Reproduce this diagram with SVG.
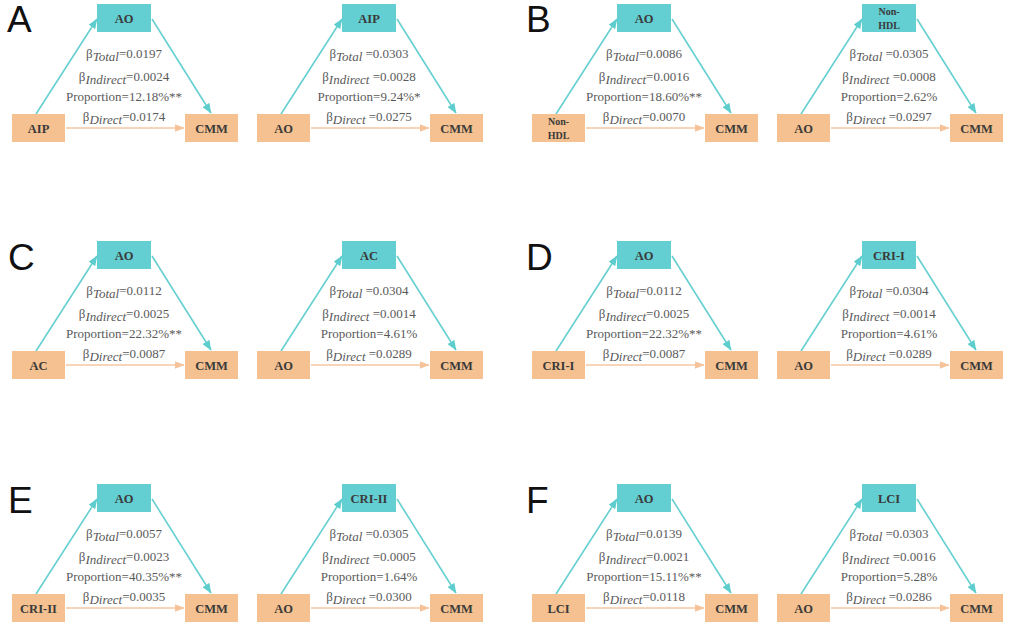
<svg xmlns="http://www.w3.org/2000/svg" width="1021" height="638" viewBox="0 0 1021 638">
<style>
.bg{fill:#ffffff}
.tb{fill:#63cfd2}
.ob{fill:#f5c190}
.bl{font-family:"Liberation Serif","Times New Roman",serif;font-weight:bold;font-size:12.5px;fill:#3a3a3a;text-anchor:middle}
.bs{font-size:10px}
.st{font-family:"Liberation Serif","Times New Roman",serif;font-size:13px;fill:#5a5a5a;text-anchor:middle}
.sub{font-style:italic}
.tl{stroke:#66cfd0;stroke-width:1.6;fill:none}
.ol{stroke:#f6c7a0;stroke-width:1.6;fill:none}
.pl{font-family:"Liberation Sans",Arial,sans-serif;font-size:37px;fill:#111}
</style>
<defs>
<marker id="at" markerUnits="userSpaceOnUse" markerWidth="10" markerHeight="8" refX="9.5" refY="4" orient="auto"><path d="M0,0 L10,4 L0,8 z" fill="#5ecdce"/></marker>
<marker id="ao" markerUnits="userSpaceOnUse" markerWidth="10" markerHeight="8" refX="9.5" refY="4" orient="auto"><path d="M0,0 L10,4 L0,8 z" fill="#f5c29a"/></marker>
</defs>
<rect class="bg" x="0" y="0" width="1021" height="638"/>

<g id="labels">
<text class="pl" x="7" y="32">A</text>
<text class="pl" x="526" y="32">B</text>
<text class="pl" x="8" y="270">C</text>
<text class="pl" x="526" y="270">D</text>
<text class="pl" x="8" y="513">E</text>
<text class="pl" x="526" y="513">F</text>
</g>

<!-- A left -->
<g id="A1" transform="translate(0,0)">
<g id="A1-connectors"><line class="tl" x1="36" y1="114" x2="97" y2="19" marker-end="url(#at)"/><line class="tl" x1="152" y1="19" x2="211" y2="113" marker-end="url(#at)"/><line class="ol" x1="66" y1="128" x2="184" y2="128" marker-end="url(#ao)"/></g>
<g id="A1-top"><rect class="tb" x="97" y="4" width="54" height="28"/><text class="bl" x="124" y="22.5">AO</text></g>
<g id="A1-x"><rect class="ob" x="12" y="114" width="53" height="28"/><text class="bl" x="38.5" y="132.5">AIP</text></g>
<g id="A1-y"><rect class="ob" x="185" y="114" width="53" height="28"/><text class="bl" x="211.5" y="132.5">CMM</text></g>
<g id="A1-stats"><text class="st" x="124" y="58">β<tspan class="sub" dy="3">Total</tspan><tspan dy="-3">=0.0197</tspan></text><text class="st" x="124" y="81">β<tspan class="sub" dy="3">Indirect</tspan><tspan dy="-3">=0.0024</tspan></text><text class="st" x="124" y="101">Proportion=12.18%**</text><text class="st" x="124" y="121">β<tspan class="sub" dy="3">Direct</tspan><tspan dy="-3">=0.0174</tspan></text></g>
</g>

<!-- A right -->
<g id="A2" transform="translate(245,0)">
<g id="A2-connectors"><line class="tl" x1="36" y1="114" x2="97" y2="19" marker-end="url(#at)"/><line class="tl" x1="152" y1="19" x2="211" y2="113" marker-end="url(#at)"/><line class="ol" x1="66" y1="128" x2="184" y2="128" marker-end="url(#ao)"/></g>
<g id="A2-top"><rect class="tb" x="97" y="4" width="54" height="28"/><text class="bl" x="124" y="22.5">AIP</text></g>
<g id="A2-x"><rect class="ob" x="12" y="114" width="53" height="28"/><text class="bl" x="38.5" y="132.5">AO</text></g>
<g id="A2-y"><rect class="ob" x="185" y="114" width="53" height="28"/><text class="bl" x="211.5" y="132.5">CMM</text></g>
<g id="A2-stats"><text class="st" x="124" y="58">β<tspan class="sub" dy="3">Total</tspan><tspan dy="-3"> =0.0303</tspan></text><text class="st" x="124" y="81">β<tspan class="sub" dy="3">Indirect</tspan><tspan dy="-3"> =0.0028</tspan></text><text class="st" x="124" y="101">Proportion=9.24%*</text><text class="st" x="124" y="121">β<tspan class="sub" dy="3">Direct</tspan><tspan dy="-3"> =0.0275</tspan></text></g>
</g>

<!-- B left -->
<g id="B1" transform="translate(520,0)">
<g id="B1-connectors"><line class="tl" x1="36" y1="114" x2="97" y2="19" marker-end="url(#at)"/><line class="tl" x1="152" y1="19" x2="211" y2="113" marker-end="url(#at)"/><line class="ol" x1="66" y1="128" x2="184" y2="128" marker-end="url(#ao)"/></g>
<g id="B1-top"><rect class="tb" x="97" y="4" width="54" height="28"/><text class="bl" x="124" y="22.5">AO</text></g>
<g id="B1-x"><rect class="ob" x="12" y="114" width="53" height="28"/><text class="bl bs" x="38.5" y="125">Non-</text><text class="bl bs" x="38.5" y="139">HDL</text></g>
<g id="B1-y"><rect class="ob" x="185" y="114" width="53" height="28"/><text class="bl" x="211.5" y="132.5">CMM</text></g>
<g id="B1-stats"><text class="st" x="124" y="58">β<tspan class="sub" dy="3">Total</tspan><tspan dy="-3">=0.0086</tspan></text><text class="st" x="124" y="81">β<tspan class="sub" dy="3">Indirect</tspan><tspan dy="-3">=0.0016</tspan></text><text class="st" x="124" y="101">Proportion=18.60%**</text><text class="st" x="124" y="121">β<tspan class="sub" dy="3">Direct</tspan><tspan dy="-3">=0.0070</tspan></text></g>
</g>

<!-- B right -->
<g id="B2" transform="translate(765,0)">
<g id="B2-connectors"><line class="tl" x1="36" y1="114" x2="97" y2="19" marker-end="url(#at)"/><line class="tl" x1="152" y1="19" x2="211" y2="113" marker-end="url(#at)"/><line class="ol" x1="66" y1="128" x2="184" y2="128" marker-end="url(#ao)"/></g>
<g id="B2-top"><rect class="tb" x="97" y="4" width="54" height="28"/><text class="bl bs" x="124" y="15">Non-</text><text class="bl bs" x="124" y="29">HDL</text></g>
<g id="B2-x"><rect class="ob" x="12" y="114" width="53" height="28"/><text class="bl" x="38.5" y="132.5">AO</text></g>
<g id="B2-y"><rect class="ob" x="185" y="114" width="53" height="28"/><text class="bl" x="211.5" y="132.5">CMM</text></g>
<g id="B2-stats"><text class="st" x="124" y="58">β<tspan class="sub" dy="3">Total</tspan><tspan dy="-3"> =0.0305</tspan></text><text class="st" x="124" y="81">β<tspan class="sub" dy="3">Indirect</tspan><tspan dy="-3"> =0.0008</tspan></text><text class="st" x="124" y="101">Proportion=2.62%</text><text class="st" x="124" y="121">β<tspan class="sub" dy="3">Direct</tspan><tspan dy="-3"> =0.0297</tspan></text></g>
</g>

<!-- C left -->
<g id="C1" transform="translate(0,237)">
<g id="C1-connectors"><line class="tl" x1="36" y1="114" x2="97" y2="19" marker-end="url(#at)"/><line class="tl" x1="152" y1="19" x2="211" y2="113" marker-end="url(#at)"/><line class="ol" x1="66" y1="128" x2="184" y2="128" marker-end="url(#ao)"/></g>
<g id="C1-top"><rect class="tb" x="97" y="4" width="54" height="28"/><text class="bl" x="124" y="22.5">AO</text></g>
<g id="C1-x"><rect class="ob" x="12" y="114" width="53" height="28"/><text class="bl" x="38.5" y="132.5">AC</text></g>
<g id="C1-y"><rect class="ob" x="185" y="114" width="53" height="28"/><text class="bl" x="211.5" y="132.5">CMM</text></g>
<g id="C1-stats"><text class="st" x="124" y="58">β<tspan class="sub" dy="3">Total</tspan><tspan dy="-3">=0.0112</tspan></text><text class="st" x="124" y="81">β<tspan class="sub" dy="3">Indirect</tspan><tspan dy="-3">=0.0025</tspan></text><text class="st" x="124" y="101">Proportion=22.32%**</text><text class="st" x="124" y="121">β<tspan class="sub" dy="3">Direct</tspan><tspan dy="-3">=0.0087</tspan></text></g>
</g>

<!-- C right -->
<g id="C2" transform="translate(245,237)">
<g id="C2-connectors"><line class="tl" x1="36" y1="114" x2="97" y2="19" marker-end="url(#at)"/><line class="tl" x1="152" y1="19" x2="211" y2="113" marker-end="url(#at)"/><line class="ol" x1="66" y1="128" x2="184" y2="128" marker-end="url(#ao)"/></g>
<g id="C2-top"><rect class="tb" x="97" y="4" width="54" height="28"/><text class="bl" x="124" y="22.5">AC</text></g>
<g id="C2-x"><rect class="ob" x="12" y="114" width="53" height="28"/><text class="bl" x="38.5" y="132.5">AO</text></g>
<g id="C2-y"><rect class="ob" x="185" y="114" width="53" height="28"/><text class="bl" x="211.5" y="132.5">CMM</text></g>
<g id="C2-stats"><text class="st" x="124" y="58">β<tspan class="sub" dy="3">Total</tspan><tspan dy="-3"> =0.0304</tspan></text><text class="st" x="124" y="81">β<tspan class="sub" dy="3">Indirect</tspan><tspan dy="-3"> =0.0014</tspan></text><text class="st" x="124" y="101">Proportion=4.61%</text><text class="st" x="124" y="121">β<tspan class="sub" dy="3">Direct</tspan><tspan dy="-3"> =0.0289</tspan></text></g>
</g>

<!-- D left -->
<g id="D1" transform="translate(520,237)">
<g id="D1-connectors"><line class="tl" x1="36" y1="114" x2="97" y2="19" marker-end="url(#at)"/><line class="tl" x1="152" y1="19" x2="211" y2="113" marker-end="url(#at)"/><line class="ol" x1="66" y1="128" x2="184" y2="128" marker-end="url(#ao)"/></g>
<g id="D1-top"><rect class="tb" x="97" y="4" width="54" height="28"/><text class="bl" x="124" y="22.5">AO</text></g>
<g id="D1-x"><rect class="ob" x="12" y="114" width="53" height="28"/><text class="bl" x="38.5" y="132.5">CRI-I</text></g>
<g id="D1-y"><rect class="ob" x="185" y="114" width="53" height="28"/><text class="bl" x="211.5" y="132.5">CMM</text></g>
<g id="D1-stats"><text class="st" x="124" y="58">β<tspan class="sub" dy="3">Total</tspan><tspan dy="-3">=0.0112</tspan></text><text class="st" x="124" y="81">β<tspan class="sub" dy="3">Indirect</tspan><tspan dy="-3">=0.0025</tspan></text><text class="st" x="124" y="101">Proportion=22.32%**</text><text class="st" x="124" y="121">β<tspan class="sub" dy="3">Direct</tspan><tspan dy="-3">=0.0087</tspan></text></g>
</g>

<!-- D right -->
<g id="D2" transform="translate(765,237)">
<g id="D2-connectors"><line class="tl" x1="36" y1="114" x2="97" y2="19" marker-end="url(#at)"/><line class="tl" x1="152" y1="19" x2="211" y2="113" marker-end="url(#at)"/><line class="ol" x1="66" y1="128" x2="184" y2="128" marker-end="url(#ao)"/></g>
<g id="D2-top"><rect class="tb" x="97" y="4" width="54" height="28"/><text class="bl" x="124" y="22.5">CRI-I</text></g>
<g id="D2-x"><rect class="ob" x="12" y="114" width="53" height="28"/><text class="bl" x="38.5" y="132.5">AO</text></g>
<g id="D2-y"><rect class="ob" x="185" y="114" width="53" height="28"/><text class="bl" x="211.5" y="132.5">CMM</text></g>
<g id="D2-stats"><text class="st" x="124" y="58">β<tspan class="sub" dy="3">Total</tspan><tspan dy="-3"> =0.0304</tspan></text><text class="st" x="124" y="81">β<tspan class="sub" dy="3">Indirect</tspan><tspan dy="-3"> =0.0014</tspan></text><text class="st" x="124" y="101">Proportion=4.61%</text><text class="st" x="124" y="121">β<tspan class="sub" dy="3">Direct</tspan><tspan dy="-3"> =0.0289</tspan></text></g>
</g>

<!-- E left -->
<g id="E1" transform="translate(0,480)">
<g id="E1-connectors"><line class="tl" x1="36" y1="114" x2="97" y2="19" marker-end="url(#at)"/><line class="tl" x1="152" y1="19" x2="211" y2="113" marker-end="url(#at)"/><line class="ol" x1="66" y1="128" x2="184" y2="128" marker-end="url(#ao)"/></g>
<g id="E1-top"><rect class="tb" x="97" y="4" width="54" height="28"/><text class="bl" x="124" y="22.5">AO</text></g>
<g id="E1-x"><rect class="ob" x="12" y="114" width="53" height="28"/><text class="bl" x="38.5" y="132.5">CRI-II</text></g>
<g id="E1-y"><rect class="ob" x="185" y="114" width="53" height="28"/><text class="bl" x="211.5" y="132.5">CMM</text></g>
<g id="E1-stats"><text class="st" x="124" y="58">β<tspan class="sub" dy="3">Total</tspan><tspan dy="-3">=0.0057</tspan></text><text class="st" x="124" y="81">β<tspan class="sub" dy="3">Indirect</tspan><tspan dy="-3">=0.0023</tspan></text><text class="st" x="124" y="101">Proportion=40.35%**</text><text class="st" x="124" y="121">β<tspan class="sub" dy="3">Direct</tspan><tspan dy="-3">=0.0035</tspan></text></g>
</g>

<!-- E right -->
<g id="E2" transform="translate(245,480)">
<g id="E2-connectors"><line class="tl" x1="36" y1="114" x2="97" y2="19" marker-end="url(#at)"/><line class="tl" x1="152" y1="19" x2="211" y2="113" marker-end="url(#at)"/><line class="ol" x1="66" y1="128" x2="184" y2="128" marker-end="url(#ao)"/></g>
<g id="E2-top"><rect class="tb" x="97" y="4" width="54" height="28"/><text class="bl" x="124" y="22.5">CRI-II</text></g>
<g id="E2-x"><rect class="ob" x="12" y="114" width="53" height="28"/><text class="bl" x="38.5" y="132.5">AO</text></g>
<g id="E2-y"><rect class="ob" x="185" y="114" width="53" height="28"/><text class="bl" x="211.5" y="132.5">CMM</text></g>
<g id="E2-stats"><text class="st" x="124" y="58">β<tspan class="sub" dy="3">Total</tspan><tspan dy="-3"> =0.0305</tspan></text><text class="st" x="124" y="81">β<tspan class="sub" dy="3">Indirect</tspan><tspan dy="-3"> =0.0005</tspan></text><text class="st" x="124" y="101">Proportion=1.64%</text><text class="st" x="124" y="121">β<tspan class="sub" dy="3">Direct</tspan><tspan dy="-3"> =0.0300</tspan></text></g>
</g>

<!-- F left -->
<g id="F1" transform="translate(520,480)">
<g id="F1-connectors"><line class="tl" x1="36" y1="114" x2="97" y2="19" marker-end="url(#at)"/><line class="tl" x1="152" y1="19" x2="211" y2="113" marker-end="url(#at)"/><line class="ol" x1="66" y1="128" x2="184" y2="128" marker-end="url(#ao)"/></g>
<g id="F1-top"><rect class="tb" x="97" y="4" width="54" height="28"/><text class="bl" x="124" y="22.5">AO</text></g>
<g id="F1-x"><rect class="ob" x="12" y="114" width="53" height="28"/><text class="bl" x="38.5" y="132.5">LCI</text></g>
<g id="F1-y"><rect class="ob" x="185" y="114" width="53" height="28"/><text class="bl" x="211.5" y="132.5">CMM</text></g>
<g id="F1-stats"><text class="st" x="124" y="58">β<tspan class="sub" dy="3">Total</tspan><tspan dy="-3">=0.0139</tspan></text><text class="st" x="124" y="81">β<tspan class="sub" dy="3">Indirect</tspan><tspan dy="-3">=0.0021</tspan></text><text class="st" x="124" y="101">Proportion=15.11%**</text><text class="st" x="124" y="121">β<tspan class="sub" dy="3">Direct</tspan><tspan dy="-3">=0.0118</tspan></text></g>
</g>

<!-- F right -->
<g id="F2" transform="translate(765,480)">
<g id="F2-connectors"><line class="tl" x1="36" y1="114" x2="97" y2="19" marker-end="url(#at)"/><line class="tl" x1="152" y1="19" x2="211" y2="113" marker-end="url(#at)"/><line class="ol" x1="66" y1="128" x2="184" y2="128" marker-end="url(#ao)"/></g>
<g id="F2-top"><rect class="tb" x="97" y="4" width="54" height="28"/><text class="bl" x="124" y="22.5">LCI</text></g>
<g id="F2-x"><rect class="ob" x="12" y="114" width="53" height="28"/><text class="bl" x="38.5" y="132.5">AO</text></g>
<g id="F2-y"><rect class="ob" x="185" y="114" width="53" height="28"/><text class="bl" x="211.5" y="132.5">CMM</text></g>
<g id="F2-stats"><text class="st" x="124" y="58">β<tspan class="sub" dy="3">Total</tspan><tspan dy="-3"> =0.0303</tspan></text><text class="st" x="124" y="81">β<tspan class="sub" dy="3">Indirect</tspan><tspan dy="-3"> =0.0016</tspan></text><text class="st" x="124" y="101">Proportion=5.28%</text><text class="st" x="124" y="121">β<tspan class="sub" dy="3">Direct</tspan><tspan dy="-3"> =0.0286</tspan></text></g>
</g>
</svg>
